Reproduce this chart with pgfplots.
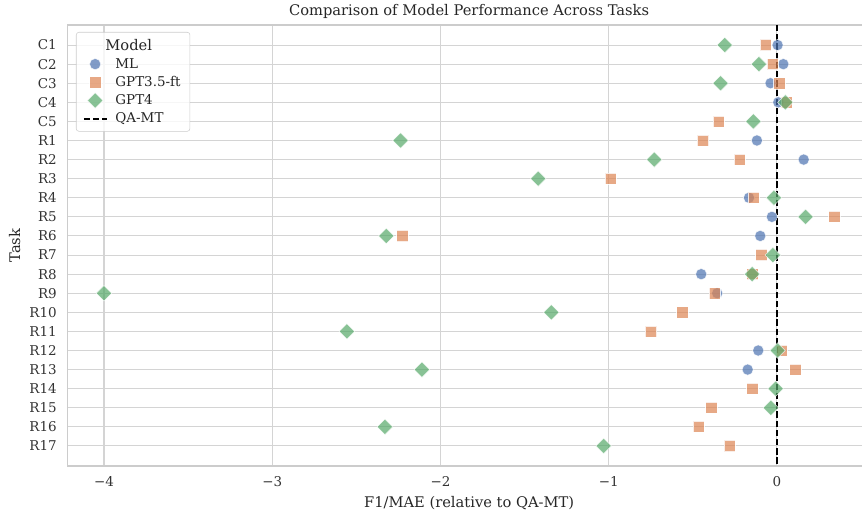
\documentclass[border=0pt]{standalone}
\usepackage{pgfplots}
\pgfplotsset{compat=1.18}
\usepackage{fontspec}
\setmainfont{DejaVu Serif}
\definecolor{cML}{HTML}{4C72B0}
\definecolor{cGA}{HTML}{DD8452}
\definecolor{cGB}{HTML}{55A868}
\definecolor{gridc}{HTML}{D4D4D4}
\definecolor{spinec}{HTML}{CCCCCC}
\begin{document}
\begin{tikzpicture}
\useasboundingbox (-50.6pt,-33pt) rectangle (595.9pt,349.5pt);
\begin{axis}[
  scale only axis,
  width=602.5pt, height=330.75pt,
  xmin=-4.217, xmax=0.558,
  ymin=-1.05, ymax=22.05,
  y dir=reverse,
  xtick={-4,-3,-2,-1,0},
  xticklabels={−4,−3,−2,−1,0},
  ytick={0,...,21},
  yticklabels={C1,C2,C3,C4,C5,R1,R2,R3,R4,R5,R6,R7,R8,R9,R10,R11,R12,R13,R14,R15,R16,R17},
  major tick length=0pt,
  xmajorgrids, ymajorgrids,
  major grid style={draw=gridc, line width=0.8pt},
  axis line style={draw=spinec, line width=0.95pt},
  tick label style={font=\fontsize{10.1}{12}\selectfont, text=black!80},
  yticklabel style={xshift=-4.5pt},
  xticklabel style={yshift=-4.5pt},
  label style={font=\fontsize{11}{13}\selectfont, text=black!85},
  title style={font=\fontsize{11}{13}\selectfont, text=black!85, yshift=-5pt},
  title={Comparison of Model Performance Across Tasks},
  xlabel={F1/MAE (relative to QA-MT)},
  ylabel={Task},
  legend cell align=left,
  legend style={at={(0,1)}, anchor=north west, xshift=6.4pt, yshift=-5.25pt,
    draw=spinec, fill=white, fill opacity=0.8, text opacity=1, rounded corners=2pt,
    font=\fontsize{10.1}{12}\selectfont, row sep=0.6pt, inner xsep=5pt, inner ysep=3pt,
    nodes={text=black!85},
    /tikz/every odd column/.append style={column sep=4pt}},
]
\addlegendimage{empty legend}
\addlegendentry{\hspace*{-7.5pt}\fontsize{11}{13}\selectfont Model}
\addplot[only marks, mark=*, mark size=4.2pt, mark options={fill=cML, fill opacity=0.7, draw=white, draw opacity=0.8, line width=0.4pt}]
table {
x y
0.004 0
0.038 1
-0.038 2
0.008 3
-0.119 5
0.159 6
-0.166 8
-0.030 9
-0.099 10
-0.450 12
-0.355 13
-0.111 16
-0.174 17
};
\addlegendentry{ML}
\addplot[only marks, mark=square*, mark size=4.2pt, mark options={fill=cGA, fill opacity=0.7, draw=white, draw opacity=0.8, line width=0.4pt}]
table {
x y
-0.067 0
-0.026 1
0.014 2
0.057 3
-0.345 4
-0.440 5
-0.222 6
-0.987 7
-0.137 8
0.341 9
-2.227 10
-0.093 11
-0.147 12
-0.370 13
-0.563 14
-0.749 15
0.028 16
0.109 17
-0.147 18
-0.390 19
-0.464 20
-0.281 21
};
\addlegendentry{GPT3.5-ft}
\addplot[only marks, mark=square*, mark size=4.1pt, mark options={rotate=45, fill=cGB, fill opacity=0.7, draw=white, draw opacity=0.8, line width=0.4pt}]
table {
x y
-0.310 0
-0.107 1
-0.335 2
0.050 3
-0.140 4
-2.237 5
-0.729 6
-1.419 7
-0.018 8
0.170 9
-2.322 10
-0.024 11
-0.147 12
-4.000 13
-1.341 14
-2.556 15
0.004 16
-2.110 17
-0.008 18
-0.036 19
-2.330 20
-1.030 21
};
\addlegendentry{GPT4}
\addplot[black, line width=1.3pt, dash pattern=on 4.8pt off 2.1pt] coordinates {(0,-1.05) (0,22.05)};
\addlegendentry{QA-MT}
\end{axis}
\end{tikzpicture}
\end{document}
